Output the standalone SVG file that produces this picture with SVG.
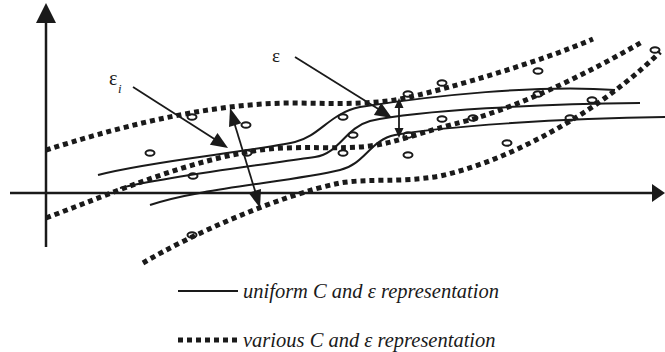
<svg xmlns="http://www.w3.org/2000/svg" width="665" height="352" viewBox="0 0 665 352">
<style>
.dot{fill:none;stroke:#1a1a1a;stroke-width:5;stroke-dasharray:5 4}
.sol{fill:none;stroke:#1a1a1a;stroke-width:2}
.ax{fill:none;stroke:#1a1a1a;stroke-width:2.5}
.ln{fill:none;stroke:#1a1a1a;stroke-width:1.8}
.hd{fill:#1a1a1a;stroke:none}
.pt{fill:none;stroke:#1a1a1a;stroke-width:2}
</style>
<rect width="665" height="352" fill="#fff"/>
<g id="axes">
<line class="ax" x1="46" y1="247" x2="46" y2="20"/>
<polygon class="hd" points="46,3 36,23 56,23"/>
<line class="ax" x1="10" y1="193" x2="653" y2="193"/>
<polygon class="hd" points="665,193 652,184 652,202"/>
</g>
<g id="various-curves">
<path class="dot" d="M46,150 C110,130 200,104 290,103 C330,103 370,106 410,97 C450,88 540,62 593,39"/>
<path class="dot" d="M46,218 C120,190 190,160 260,150 C300,145 340,150 370,146 C400,142 420,132 470,120 C530,102 590,72 642,42"/>
<path class="dot" d="M143,263 C190,235 280,195 340,183 C370,178 400,183 440,176 C490,165 540,140 580,115 C610,96 640,72 660,52"/>
</g>
<g id="uniform-curves">
<path class="sol" d="M98,175 C150,161 250,152 295,142 C320,136 330,113 360,107 C430,96 540,84 615,90"/>
<path class="sol" d="M120,188 C170,176 260,165 315,157 C340,153 345,128 370,121 C420,110 540,104 640,103"/>
<path class="sol" d="M150,205 C200,188 290,182 340,170 C365,164 370,140 395,135 C440,127 560,118 665,117"/>
</g>
<g id="points">
<ellipse class="pt" cx="192" cy="117" rx="4.5" ry="2.8"/>
<ellipse class="pt" cx="246" cy="125" rx="4.5" ry="2.8"/>
<ellipse class="pt" cx="150" cy="153" rx="4.5" ry="2.8"/>
<ellipse class="pt" cx="247" cy="153" rx="4.5" ry="2.8"/>
<ellipse class="pt" cx="193" cy="176" rx="4.5" ry="2.8"/>
<ellipse class="pt" cx="192" cy="235" rx="4.5" ry="2.8"/>
<ellipse class="pt" cx="343" cy="117" rx="4.5" ry="2.8"/>
<ellipse class="pt" cx="353" cy="135" rx="4.5" ry="2.8"/>
<ellipse class="pt" cx="343" cy="153" rx="4.5" ry="2.8"/>
<ellipse class="pt" cx="408" cy="94" rx="4.5" ry="2.8"/>
<ellipse class="pt" cx="408" cy="135" rx="4.5" ry="2.8"/>
<ellipse class="pt" cx="408" cy="155" rx="4.5" ry="2.8"/>
<ellipse class="pt" cx="442" cy="83" rx="4.5" ry="2.8"/>
<ellipse class="pt" cx="442" cy="119" rx="4.5" ry="2.8"/>
<ellipse class="pt" cx="473" cy="118" rx="4.5" ry="2.8"/>
<ellipse class="pt" cx="507" cy="143" rx="4.5" ry="2.8"/>
<ellipse class="pt" cx="538" cy="71" rx="4.5" ry="2.8"/>
<ellipse class="pt" cx="538" cy="94" rx="4.5" ry="2.8"/>
<ellipse class="pt" cx="570" cy="118" rx="4.5" ry="2.8"/>
<ellipse class="pt" cx="592" cy="100" rx="4.5" ry="2.8"/>
<ellipse class="pt" cx="655" cy="50" rx="4.5" ry="2.8"/>
</g>
<g id="connectors">
<line class="ln" x1="133" y1="87" x2="216" y2="140"/>
<polygon class="hd" points="228,148 209.9,144.7 217.5,132.9"/>
<line class="ln" x1="295" y1="57" x2="380" y2="110"/>
<polygon class="hd" points="392,118 373.9,114.9 381.3,103.1"/>
<line class="ln" x1="234" y1="122" x2="256" y2="194"/>
<polygon class="hd" points="230,108 241.4,123.3 229,127.1"/>
<polygon class="hd" points="260,208 261,188.9 248.6,192.7"/>
<line class="ln" x1="399" y1="106" x2="399" y2="130"/>
<polygon class="hd" points="399,98 394.5,108 403.5,108"/>
<polygon class="hd" points="399,138 394.5,128 403.5,128"/>
</g>
<g id="label-eps-i" font-family="Liberation Serif, DejaVu Serif, serif" fill="#1a1a1a">
<text x="109" y="85" font-size="20">ε</text>
<text x="118" y="93" font-size="13" font-style="italic">i</text>
</g>
<g id="label-eps" font-family="Liberation Serif, DejaVu Serif, serif" fill="#1a1a1a">
<text x="272" y="62" font-size="19">ε</text>
</g>
<g id="legend" font-family="Liberation Serif, DejaVu Serif, serif" font-style="italic" font-size="20.5" fill="#1a1a1a">
<line class="sol" x1="178" y1="291" x2="238" y2="291"/>
<text x="243" y="298">uniform C and ε representation</text>
<line class="dot" x1="178" y1="340" x2="237" y2="340"/>
<text x="243" y="347">various C and ε representation</text>
</g>
</svg>
